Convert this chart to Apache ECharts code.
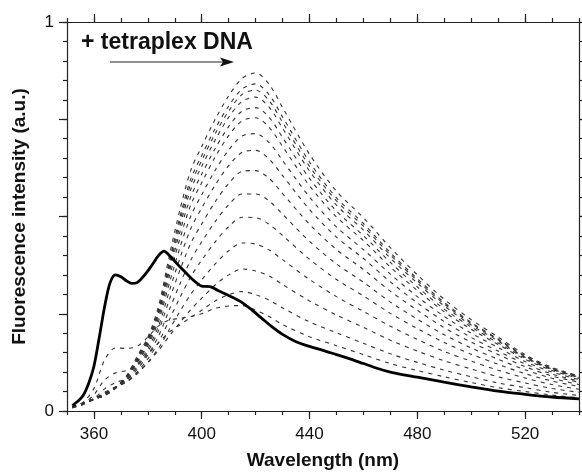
<!DOCTYPE html>
<html>
<head>
<meta charset="utf-8">
<script src="https://cdn.jsdelivr.net/npm/echarts@6/dist/echarts.min.js"></script>
<style>
  html, body { margin: 0; padding: 0; background: #fff; }
  #chart { width: 582px; height: 475px; }
</style>
</head>
<body>
<div id="chart"></div>
<script>
// Emission spectra of the dye alone (solid) and during titration with tetraplex DNA (dashed)

// Free dye spectrum
const freeWavelengths = [352, 354, 356, 358, 360, 362, 364, 366, 368, 370, 372, 374, 376, 378, 380, 382, 384, 386, 388, 390,
  392, 394, 396, 398, 400, 403, 406, 410, 414, 418, 422, 426, 430, 435, 440, 445, 450, 455, 460, 465,
  470, 475, 480, 490, 500, 510, 520, 530, 540];
const freeDye = [0.014, 0.025, 0.040, 0.070, 0.115, 0.190, 0.270, 0.330, 0.350, 0.345, 0.335, 0.328, 0.330, 0.343, 0.360, 0.380, 0.400, 0.411, 0.400, 0.385,
  0.370, 0.356, 0.342, 0.330, 0.321, 0.320, 0.310, 0.297, 0.283, 0.263, 0.240, 0.217, 0.197, 0.178, 0.166, 0.156, 0.145, 0.134, 0.122, 0.110,
  0.100, 0.093, 0.087, 0.074, 0.062, 0.051, 0.043, 0.036, 0.031];

// Titration spectra, increasing DNA concentration
const wavelengths = [352, 356, 360, 364, 368, 372, 376, 380, 384, 388, 392, 396, 400, 405, 410, 415, 420, 425, 430, 440,
  450, 460, 470, 480, 490, 500, 510, 520, 530, 540];
const dna01 = [0.010, 0.023, 0.058, 0.132, 0.162, 0.161, 0.166, 0.190, 0.219, 0.234, 0.238, 0.243, 0.250, 0.264, 0.270, 0.271, 0.259, 0.243, 0.222, 0.191, 0.168, 0.145, 0.122, 0.104, 0.088, 0.073, 0.060, 0.050, 0.041, 0.034];
const dna02 = [0.010, 0.019, 0.042, 0.080, 0.098, 0.104, 0.118, 0.145, 0.176, 0.203, 0.222, 0.241, 0.259, 0.283, 0.299, 0.307, 0.299, 0.285, 0.265, 0.229, 0.201, 0.174, 0.147, 0.125, 0.105, 0.088, 0.072, 0.060, 0.048, 0.040];
const dna03 = [0.008, 0.017, 0.032, 0.057, 0.073, 0.082, 0.098, 0.124, 0.156, 0.193, 0.228, 0.261, 0.290, 0.324, 0.350, 0.365, 0.360, 0.347, 0.325, 0.283, 0.247, 0.215, 0.182, 0.154, 0.129, 0.108, 0.088, 0.072, 0.058, 0.048];
const dna04 = [0.008, 0.017, 0.030, 0.048, 0.062, 0.074, 0.095, 0.125, 0.162, 0.210, 0.257, 0.301, 0.337, 0.378, 0.412, 0.432, 0.429, 0.414, 0.389, 0.338, 0.294, 0.256, 0.218, 0.184, 0.153, 0.128, 0.105, 0.085, 0.068, 0.056];
const dna05 = [0.009, 0.018, 0.030, 0.046, 0.060, 0.075, 0.100, 0.134, 0.177, 0.235, 0.293, 0.346, 0.388, 0.435, 0.474, 0.498, 0.497, 0.480, 0.451, 0.390, 0.338, 0.296, 0.251, 0.212, 0.176, 0.146, 0.120, 0.096, 0.077, 0.063];
const dna06 = [0.009, 0.019, 0.031, 0.046, 0.061, 0.078, 0.107, 0.144, 0.193, 0.261, 0.328, 0.389, 0.435, 0.487, 0.530, 0.558, 0.558, 0.540, 0.506, 0.436, 0.378, 0.331, 0.280, 0.236, 0.196, 0.162, 0.133, 0.106, 0.084, 0.068];
const dna07 = [0.010, 0.020, 0.031, 0.045, 0.060, 0.080, 0.113, 0.153, 0.207, 0.287, 0.364, 0.432, 0.481, 0.538, 0.585, 0.616, 0.618, 0.598, 0.559, 0.480, 0.415, 0.364, 0.308, 0.259, 0.214, 0.177, 0.145, 0.114, 0.090, 0.074];
const dna08 = [0.010, 0.020, 0.031, 0.043, 0.059, 0.081, 0.118, 0.160, 0.219, 0.309, 0.395, 0.470, 0.522, 0.581, 0.631, 0.665, 0.670, 0.648, 0.605, 0.518, 0.447, 0.392, 0.332, 0.278, 0.230, 0.189, 0.154, 0.121, 0.095, 0.077];
const dna09 = [0.010, 0.020, 0.032, 0.044, 0.062, 0.085, 0.124, 0.168, 0.232, 0.329, 0.422, 0.502, 0.556, 0.619, 0.671, 0.707, 0.713, 0.690, 0.644, 0.550, 0.473, 0.415, 0.352, 0.294, 0.243, 0.200, 0.163, 0.127, 0.100, 0.081];
const dna10 = [0.010, 0.020, 0.031, 0.043, 0.060, 0.086, 0.127, 0.173, 0.241, 0.346, 0.445, 0.531, 0.587, 0.653, 0.708, 0.746, 0.754, 0.729, 0.680, 0.579, 0.499, 0.438, 0.370, 0.310, 0.255, 0.210, 0.171, 0.133, 0.104, 0.084];
const dna11 = [0.010, 0.020, 0.031, 0.043, 0.061, 0.087, 0.131, 0.178, 0.249, 0.359, 0.463, 0.552, 0.609, 0.675, 0.731, 0.771, 0.780, 0.755, 0.703, 0.598, 0.514, 0.451, 0.382, 0.319, 0.262, 0.216, 0.175, 0.136, 0.106, 0.086];
const dna12 = [0.010, 0.020, 0.030, 0.040, 0.058, 0.086, 0.132, 0.179, 0.253, 0.369, 0.478, 0.571, 0.629, 0.697, 0.755, 0.796, 0.807, 0.781, 0.727, 0.617, 0.529, 0.465, 0.393, 0.329, 0.270, 0.221, 0.180, 0.138, 0.108, 0.087];
const dna13 = [0.010, 0.020, 0.030, 0.040, 0.059, 0.087, 0.134, 0.183, 0.258, 0.378, 0.491, 0.585, 0.644, 0.713, 0.771, 0.814, 0.825, 0.798, 0.742, 0.629, 0.540, 0.475, 0.401, 0.335, 0.275, 0.225, 0.183, 0.140, 0.109, 0.088];
const dna14 = [0.010, 0.020, 0.030, 0.040, 0.059, 0.088, 0.136, 0.185, 0.262, 0.386, 0.501, 0.598, 0.657, 0.726, 0.784, 0.828, 0.841, 0.813, 0.756, 0.640, 0.548, 0.482, 0.407, 0.340, 0.279, 0.228, 0.185, 0.142, 0.110, 0.089];
const dna15 = [0.010, 0.020, 0.030, 0.040, 0.060, 0.090, 0.140, 0.190, 0.270, 0.400, 0.520, 0.620, 0.680, 0.750, 0.810, 0.855, 0.869, 0.840, 0.780, 0.660, 0.565, 0.497, 0.420, 0.350, 0.287, 0.235, 0.190, 0.145, 0.112, 0.090];
const titration = [dna01, dna02, dna03, dna04, dna05, dna06, dna07, dna08, dna09, dna10, dna11, dna12, dna13, dna14, dna15];

// Axis ticks and labels
const xMinorTicks = [350, 360, 370, 380, 390, 400, 410, 420, 430, 440, 450, 460, 470, 480, 490, 500, 510, 520, 530, 540];
const xMajorTicks = [360, 400, 440, 480, 520];
const xTickLabels = [360, 400, 440, 480, 520];
const yMinorTicks = [0, 0.05, 0.1, 0.15, 0.2, 0.25, 0.3, 0.35, 0.4, 0.45, 0.5, 0.55, 0.6, 0.65, 0.7, 0.75, 0.8, 0.85, 0.9, 0.95, 1];
const yMajorTicks = [0, 0.25, 0.5, 0.75, 1];
const yTickLabels = [0, 1];

const FONT = '"Liberation Sans", Arial, Helvetica, sans-serif';
const INK = '#111';
const axisStroke = { color: '#222', width: 1.2 };

function pairs(xs, ys) {
  return xs.map((x, i) => [x, ys[i]]);
}

function makeAxis(kind, position, ticks, tickLen, withLine, labels, extra) {
  const ax = {
    type: 'value',
    position: position,
    min: kind === 'x' ? 350 : 0,
    max: kind === 'x' ? 540 : 1,
    axisLine: { show: withLine, onZero: false, lineStyle: axisStroke },
    axisTick: { show: true, inside: false, length: tickLen, customValues: ticks, lineStyle: axisStroke },
    axisLabel: labels
      ? { show: true, customValues: labels, color: INK, fontFamily: FONT, fontSize: 17,
          margin: kind === 'x' ? 15 : 13 }
      : { show: false },
    splitLine: { show: false },
    minorTick: { show: false },
    z: 5
  };
  return Object.assign(ax, extra || {});
}

const dashedSeries = titration.map((vals, i) => ({
  type: 'line',
  name: 'dna' + (i + 1),
  data: pairs(wavelengths, vals),
  showSymbol: false,
  smooth: 0.3,
  lineStyle: { color: '#333', width: 1.1, type: [4, 5] },
  z: 2,
  silent: true
}));

const chart = echarts.init(document.getElementById('chart'), null, { renderer: 'canvas' });
chart.setOption({
  animation: false,
  backgroundColor: '#fff',
  grid: { left: 67, right: 3, top: 22, bottom: 63, containLabel: false },
  xAxis: [
    makeAxis('x', 'bottom', xMinorTicks, 4, true, xTickLabels, {
      name: 'Wavelength (nm)', nameLocation: 'middle', nameGap: 40,
      nameTextStyle: { color: INK, fontFamily: FONT, fontWeight: 'bold', fontSize: 19 }
    }),
    makeAxis('x', 'bottom', xMajorTicks, 8, false, null),
    makeAxis('x', 'top', xMinorTicks, 4, true, null),
    makeAxis('x', 'top', xMajorTicks, 8, false, null)
  ],
  yAxis: [
    makeAxis('y', 'left', yMinorTicks, 4, true, yTickLabels, {
      name: 'Fluorescence intensity (a.u.)', nameLocation: 'middle', nameGap: 38, nameRotate: 90,
      nameTextStyle: { color: INK, fontFamily: FONT, fontWeight: 'bold', fontSize: 19 }
    }),
    makeAxis('y', 'left', yMajorTicks, 8, false, null),
    makeAxis('y', 'right', yMinorTicks, 4, true, null),
    makeAxis('y', 'right', yMajorTicks, 8, false, null)
  ],
  series: dashedSeries.concat([{
    type: 'line',
    name: 'free dye',
    data: pairs(freeWavelengths, freeDye),
    showSymbol: false,
    smooth: 0.3,
    lineStyle: { color: '#000', width: 2.8 },
    z: 4,
    silent: true
  }]),
  graphic: [
    {
      type: 'text', x: 81, y: 43, z: 10,
      style: { text: '+ tetraplex DNA', font: 'bold 23px ' + FONT, fill: INK, verticalAlign: 'middle' }
    },
    {
      type: 'line', z: 10,
      shape: { x1: 110, y1: 62, x2: 226, y2: 62 },
      style: { stroke: '#222', lineWidth: 1.2 }
    },
    {
      type: 'polygon', z: 10,
      shape: { points: [[220, 57.5], [234, 62], [220, 66.5], [223, 62]] },
      style: { fill: INK }
    }
  ]
});
</script>
</body>
</html>
